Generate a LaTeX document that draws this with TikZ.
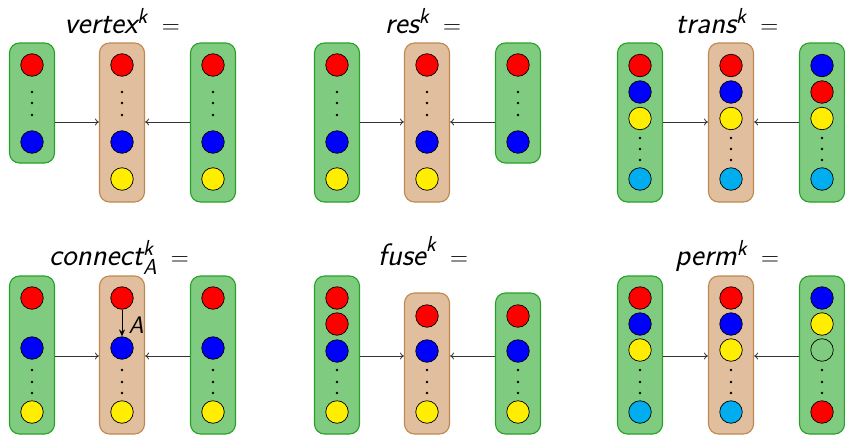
\documentclass[tikz,border=0pt]{standalone}
\usepackage{amsmath}
\usetikzlibrary{arrows.meta}
\definecolor{gfill}{RGB}{127,204,128}
\definecolor{gline}{RGB}{40,160,40}
\definecolor{bfill}{RGB}{224,190,158}
\definecolor{bline}{RGB}{192,136,80}
\definecolor{cred}{RGB}{255,0,0}
\definecolor{cblue}{RGB}{0,0,255}
\definecolor{cyel}{RGB}{255,238,0}
\definecolor{ccyan}{RGB}{0,174,239}
\newcommand\sfs[1]{\text{\sffamily\slshape #1}}
\tikzset{
  gbox/.style={draw=gline, fill=gfill, rounded corners=10pt, line width=1.1pt, minimum width=45pt, inner sep=0pt},
  bbox/.style={draw=bline, fill=bfill, rounded corners=10pt, line width=1.1pt, minimum width=45pt, inner sep=0pt},
  ball/.style={circle, draw=black, line width=0.7pt, minimum size=22.5pt, inner sep=0pt},
  R/.style={ball, fill=cred}, B/.style={ball, fill=cblue}, Y/.style={ball, fill=cyel}, C/.style={ball, fill=ccyan}, E/.style={ball},
  vd/.style={circle, fill=black, inner sep=0pt, minimum size=2.8pt},
  arr/.style={-{To[length=4pt,width=7pt]}, draw=black!80, line width=0.8pt},
  ttl/.style={anchor=base, inner sep=0pt, font=\fontsize{31}{37}\selectfont}
}
\begin{document}
\begin{tikzpicture}[x=1pt,y=-1pt]
\useasboundingbox (0,0) rectangle (845,434);
% ---------- vertex ----------
\node[ttl] (t1) at (122,33) {$\sfs{vertex}^{\sfs{k}}\;=$};
\node[gbox, minimum height=120pt] (vL) at (32,103) {};
\node[bbox, minimum height=159pt] (vM) at (122,122.5) {};
\node[gbox, minimum height=159pt] (vR) at (213,122.5) {};
\node[R] (vL1) at (32,65) {}; \node[vd] (vLd1) at (32,92) {}; \node[vd] (vLd2) at (32,103) {}; \node[vd] (vLd3) at (32,115) {}; \node[B] (vL2) at (32,142) {};
\node[R] (vM1) at (122,65) {}; \node[vd] (vMd1) at (122,92) {}; \node[vd] (vMd2) at (122,103) {}; \node[vd] (vMd3) at (122,115) {}; \node[B] (vM2) at (122,142) {}; \node[Y] (vM3) at (122,179) {};
\node[R] (vR1) at (213,65) {}; \node[vd] (vRd1) at (213,92) {}; \node[vd] (vRd2) at (213,103) {}; \node[vd] (vRd3) at (213,115) {}; \node[B] (vR2) at (213,142) {}; \node[Y] (vR3) at (213,179) {};
\coordinate (va) at (0,122);
\draw[arr] (vL.east |- va) -- (vM.west |- va);
\draw[arr] (vR.west |- va) -- (vM.east |- va);
% ---------- res ----------
\node[ttl] (t2) at (423,33) {$\sfs{res}^{\sfs{k}}\;=$};
\node[gbox, minimum height=159pt] (rL) at (337,122.5) {};
\node[bbox, minimum height=159pt] (rM) at (427,122.5) {};
\node[gbox, minimum height=120pt] (rR) at (518,103) {};
\node[R] (rL1) at (337,65) {}; \node[vd] (rLd1) at (337,92) {}; \node[vd] (rLd2) at (337,103) {}; \node[vd] (rLd3) at (337,115) {}; \node[B] (rL2) at (337,142) {}; \node[Y] (rL3) at (337,179) {};
\node[R] (rM1) at (427,65) {}; \node[vd] (rMd1) at (427,92) {}; \node[vd] (rMd2) at (427,103) {}; \node[vd] (rMd3) at (427,115) {}; \node[B] (rM2) at (427,142) {}; \node[Y] (rM3) at (427,179) {};
\node[R] (rR1) at (518,65) {}; \node[vd] (rRd1) at (518,92) {}; \node[vd] (rRd2) at (518,103) {}; \node[vd] (rRd3) at (518,115) {}; \node[B] (rR2) at (518,142) {};
\coordinate (ra) at (0,122);
\draw[arr] (rL.east |- ra) -- (rM.west |- ra);
\draw[arr] (rR.west |- ra) -- (rM.east |- ra);
% ---------- trans ----------
\node[ttl] (t3) at (727,33) {$\sfs{trans}^{\sfs{k}}\;=$};
\node[gbox, minimum height=159pt] (tL) at (640,122.5) {};
\node[bbox, minimum height=159pt] (tM) at (731,122.5) {};
\node[gbox, minimum height=159pt] (tR) at (822,122.5) {};
\node[R] (tL1) at (640,65.5) {}; \node[B] (tL2) at (640,92) {}; \node[Y] (tL3) at (640,118.5) {};
\node[vd] (tLd1) at (640,138) {}; \node[vd] (tLd2) at (640,149) {}; \node[vd] (tLd3) at (640,160) {}; \node[C] (tL4) at (640,179) {};
\node[R] (tM1) at (731,65.5) {}; \node[B] (tM2) at (731,92) {}; \node[Y] (tM3) at (731,118.5) {};
\node[vd] (tMd1) at (731,138) {}; \node[vd] (tMd2) at (731,149) {}; \node[vd] (tMd3) at (731,160) {}; \node[C] (tM4) at (731,179) {};
\node[B] (tR1) at (822,65.5) {}; \node[R] (tR2) at (822,92) {}; \node[Y] (tR3) at (822,118.5) {};
\node[vd] (tRd1) at (822,138) {}; \node[vd] (tRd2) at (822,149) {}; \node[vd] (tRd3) at (822,160) {}; \node[C] (tR4) at (822,179) {};
\coordinate (ta) at (0,122);
\draw[arr] (tL.east |- ta) -- (tM.west |- ta);
\draw[arr] (tR.west |- ta) -- (tM.east |- ta);
% ---------- connect ----------
\node[ttl] (t4) at (119,265) {$\sfs{connect}^{\sfs{k}}_{\sfs{A}}\;=$};
\node[gbox, minimum height=158pt] (cL) at (32,355) {};
\node[bbox, minimum height=158pt] (cM) at (122,355) {};
\node[gbox, minimum height=158pt] (cR) at (213,355) {};
\node[R] (cL1) at (32,298) {}; \node[B] (cL2) at (32,348) {}; \node[vd] (cLd1) at (32,370) {}; \node[vd] (cLd2) at (32,382) {}; \node[vd] (cLd3) at (32,393) {}; \node[Y] (cL3) at (32,412) {};
\node[R] (cM1) at (122,298) {}; \node[B] (cM2) at (122,348) {}; \node[vd] (cMd1) at (122,370) {}; \node[vd] (cMd2) at (122,382) {}; \node[vd] (cMd3) at (122,393) {}; \node[Y] (cM3) at (122,412) {};
\node[R] (cR1) at (213,298) {}; \node[B] (cR2) at (213,348) {}; \node[vd] (cRd1) at (213,370) {}; \node[vd] (cRd2) at (213,382) {}; \node[vd] (cRd3) at (213,393) {}; \node[Y] (cR3) at (213,412) {};
\draw[-{Stealth[length=7pt,width=6pt]}, line width=0.9pt] (cM1) -- (cM2);
\node[inner sep=0pt, font=\fontsize{24}{28}\selectfont\sffamily\slshape] (Alab) at (136,325) {A};
\coordinate (ca) at (0,356);
\draw[arr] (cL.east |- ca) -- (cM.west |- ca);
\draw[arr] (cR.west |- ca) -- (cM.east |- ca);
% ---------- fuse ----------
\node[ttl] (t5) at (423,265) {$\sfs{fuse}^{\sfs{k}}\;=$};
\node[gbox, minimum height=158pt] (fL) at (337,355) {};
\node[bbox, minimum height=141pt] (fM) at (427,363.5) {};
\node[gbox, minimum height=141pt] (fR) at (518,363.5) {};
\node[R] (fL1) at (337,298) {}; \node[R] (fL2) at (337,324) {}; \node[B] (fL3) at (337,351) {};
\node[vd] (fLd1) at (337,370) {}; \node[vd] (fLd2) at (337,382) {}; \node[vd] (fLd3) at (337,393) {}; \node[Y] (fL4) at (337,412) {};
\node[R] (fM1) at (427,316) {}; \node[B] (fM2) at (427,351) {};
\node[vd] (fMd1) at (427,370) {}; \node[vd] (fMd2) at (427,382) {}; \node[vd] (fMd3) at (427,393) {}; \node[Y] (fM3) at (427,412) {};
\node[R] (fR1) at (518,316) {}; \node[B] (fR2) at (518,351) {};
\node[vd] (fRd1) at (518,370) {}; \node[vd] (fRd2) at (518,382) {}; \node[vd] (fRd3) at (518,393) {}; \node[Y] (fR3) at (518,412) {};
\coordinate (fa) at (0,356);
\draw[arr] (fL.east |- fa) -- (fM.west |- fa);
\draw[arr] (fR.west |- fa) -- (fM.east |- fa);
% ---------- perm ----------
\node[ttl] (t6) at (727,265) {$\sfs{perm}^{\sfs{k}}\;=$};
\node[gbox, minimum height=158pt] (pL) at (640,355) {};
\node[bbox, minimum height=158pt] (pM) at (731,355) {};
\node[gbox, minimum height=158pt] (pR) at (822,355) {};
\node[R] (pL1) at (640,298) {}; \node[B] (pL2) at (640,324) {}; \node[Y] (pL3) at (640,350) {};
\node[vd] (pLd1) at (640,370) {}; \node[vd] (pLd2) at (640,382) {}; \node[vd] (pLd3) at (640,393) {}; \node[C] (pL4) at (640,412) {};
\node[R] (pM1) at (731,298) {}; \node[B] (pM2) at (731,324) {}; \node[Y] (pM3) at (731,350) {};
\node[vd] (pMd1) at (731,370) {}; \node[vd] (pMd2) at (731,382) {}; \node[vd] (pMd3) at (731,393) {}; \node[C] (pM4) at (731,412) {};
\node[B] (pR1) at (822,298) {}; \node[Y] (pR2) at (822,324) {}; \node[E] (pR3) at (822,350) {};
\node[vd] (pRd1) at (822,370) {}; \node[vd] (pRd2) at (822,382) {}; \node[vd] (pRd3) at (822,393) {}; \node[R] (pR4) at (822,412) {};
\coordinate (pa) at (0,356);
\draw[arr] (pL.east |- pa) -- (pM.west |- pa);
\draw[arr] (pR.west |- pa) -- (pM.east |- pa);
\end{tikzpicture}
\end{document}
